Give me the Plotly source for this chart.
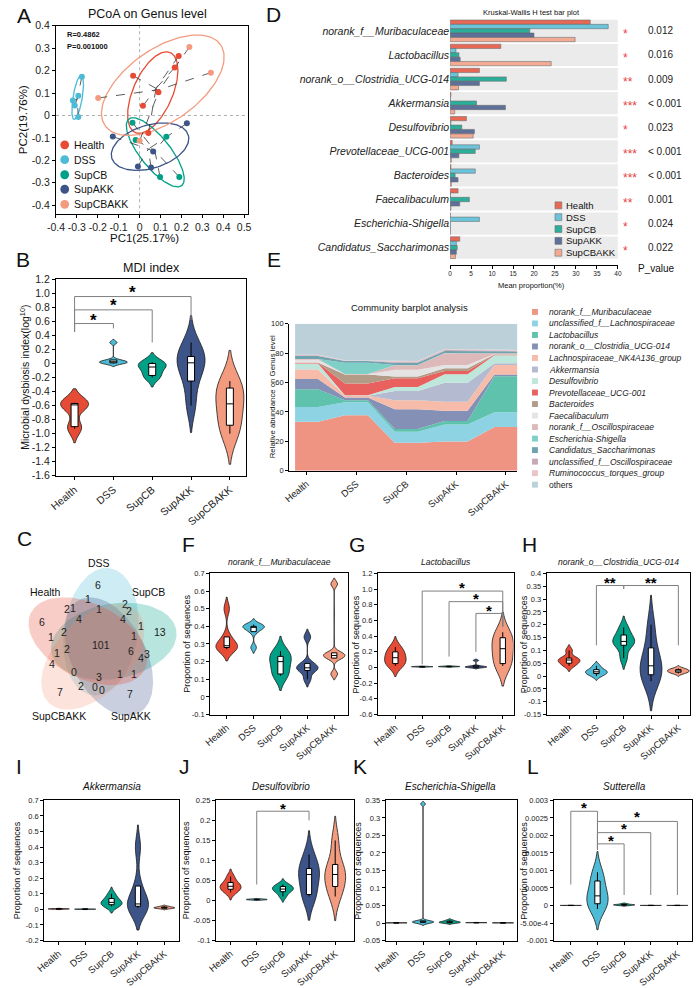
import numpy as np
import plotly.graph_objects as go

W, H = 698, 988
FONT = "Arial, 'Liberation Sans', sans-serif"

groups = ["Health", "DSS", "SupCB", "SupAKK", "SupCBAKK"]
group_colors = ["#E64B35", "#4DBBD5", "#00A087", "#3C5488", "#F39B7F"]

# ---------------- A: PCoA ----------------
pc1 = [
    [0.187, 0.168, -0.031, 0.090, 0.016, 0.042],
    [-0.276, -0.293, -0.319, -0.310, -0.293],
    [-0.034, -0.019, 0.128, 0.098, 0.190],
    [-0.128, 0.226, -0.008, 0.055, 0.065],
    [0.238, 0.341, -0.198, 0.000],
]
pc2 = [
    [0.265, 0.214, 0.177, 0.104, 0.043, -0.078],
    [0.173, 0.088, 0.067, 0.045, -0.007],
    [-0.032, -0.109, -0.095, -0.274, -0.274],
    [-0.094, -0.035, -0.227, -0.232, -0.160],
    [0.305, 0.191, 0.078, -0.113],
]
ell_cx = [0.063, -0.296, 0.075, 0.050, 0.111]
ell_cy = [0.102, 0.081, -0.164, -0.139, 0.135]
ell_a = [0.197, 0.100, 0.195, 0.190, 0.330]
ell_b = [0.093, 0.022, 0.070, 0.097, 0.165]
ell_ang = [64, 80, -49, 15, 32]
pcoa_stats = ["R=0.4862", "P=0.001000"]

# ---------------- B: MDI ----------------
mdi = [
    [-0.93, -0.90, -0.60, -0.58, -0.57, -0.56],
    [0.00, 0.01, 0.02, 0.03, 0.05, 0.30],
    [-0.20, -0.17, -0.07, -0.03, 0.00, 0.02],
    [-0.60, -0.25, -0.05, 0.07, 0.10, 0.30],
    [-1.00, -0.88, -0.65, -0.50, -0.35, -0.25],
]

# ---------------- C: Venn ----------------
venn_sets = ["DSS", "SupCB", "SupAKK", "SupCBAKK", "Health"]
venn_counts = ["6", "1", "2", "1", "1", "2", "2", "6", "4", "4", "1", "13", "1", "2", "1",
               "101", "2", "1", "4", "6", "4", "3", "0", "3", "1", "1", "7", "2", "0", "0", "7"]

# ---------------- D: Kruskal-Wallis ----------------
kw_taxa = ["norank_f__Muribaculaceae", "Lactobacillus", "norank_o__Clostridia_UCG-014",
           "Akkermansia", "Desulfovibrio", "Prevotellaceae_UCG-001", "Bacteroides",
           "Faecalibaculum", "Escherichia-Shigella", "Candidatus_Saccharimonas"]
kw_health = [33.4, 12.1, 7.0, 0.2, 3.9, 0.5, 0.2, 1.9, 0.05, 2.3]
kw_dss = [37.7, 1.4, 1.9, 0.1, 0.2, 7.0, 6.0, 0.1, 7.0, 1.5]
kw_supcb = [19.0, 2.1, 13.4, 6.3, 2.8, 6.0, 1.2, 4.6, 0.05, 1.7]
kw_supakk = [20.0, 2.4, 7.0, 13.2, 5.8, 2.1, 1.9, 2.3, 0.05, 1.5]
kw_supcbakk = [29.8, 24.1, 2.0, 1.1, 5.5, 0.3, 0.3, 0.2, 0.05, 1.3]
kw_stars = ["*", "*", "**", "***", "*", "***", "***", "**", "*", "*"]
kw_pvals = ["0.012", "0.016", "0.009", "< 0.001", "0.023", "< 0.001", "< 0.001", "0.001", "0.024", "0.022"]

# ---------------- E: community ----------------
comm_taxa = ["norank_f__Muribaculaceae", "unclassified_f__Lachnospiraceae", "Lactobacillus",
             "norank_o__Clostridia_UCG-014", "Lachnospiraceae_NK4A136_group", "Akkermansia",
             "Desulfovibrio", "Prevotellaceae_UCG-001", "Bacteroides", "Faecalibaculum",
             "norank_f__Oscillospiraceae", "Escherichia-Shigella", "Candidatus_Saccharimonas",
             "unclassified_f__Oscillospiraceae", "Ruminococcus_torques_group", "others"]
comm_values = [
    [33.4, 37.8, 19.0, 20.0, 29.8],
    [10.0, 8.8, 7.5, 11.5, 10.0],
    [12.0, 1.4, 2.0, 2.4, 24.5],
    [7.0, 1.8, 13.4, 7.0, 1.2],
    [6.5, 1.2, 6.0, 6.0, 6.5],
    [0.2, 0.1, 6.3, 13.0, 1.1],
    [3.9, 0.2, 2.8, 5.8, 5.5],
    [0.5, 8.0, 6.0, 2.1, 0.3],
    [0.2, 6.2, 1.2, 1.9, 0.3],
    [1.8, 0.1, 4.6, 2.3, 0.2],
    [0.5, 0.3, 3.0, 8.0, 0.5],
    [0.1, 7.5, 0.1, 0.1, 0.1],
    [2.0, 1.2, 1.5, 1.3, 1.2],
    [0.5, 0.3, 0.8, 0.8, 0.5],
    [0.3, 0.3, 0.5, 0.5, 0.5],
]
comm_colors = ["#EF9383", "#8DD3E4", "#5EC2AC", "#8490B6", "#F6BCA9", "#B4BBD0", "#BFE6DB",
               "#E9615F", "#B39C87", "#E4E4E4", "#DEB9B9", "#7ED0C7", "#6FA4AF", "#C6A9B7",
               "#E9C5CA", "#BBD0D9"]

# ---------------- F-L: violins ----------------
murib = [
    [0.27, 0.28, 0.28, 0.30, 0.34, 0.50],
    [0.28, 0.37, 0.39, 0.40, 0.40, 0.41],
    [0.12, 0.13, 0.18, 0.22, 0.23, 0.26],
    [0.10, 0.15, 0.16, 0.17, 0.19, 0.34],
    [0.13, 0.22, 0.23, 0.24, 0.25, 0.64],
]
lacto = [
    [0.02, 0.05, 0.10, 0.15, 0.20, 0.26],
    [0.005, 0.008, 0.010, 0.011, 0.012, 0.015],
    [0.008, 0.010, 0.012, 0.013, 0.015, 0.018],
    [0.000, 0.004, 0.008, 0.010, 0.020, 0.090],
    [0.02, 0.05, 0.20, 0.28, 0.38, 0.45],
]
clostr = [
    [0.040, 0.050, 0.060, 0.065, 0.070, 0.100],
    [0.000, 0.010, 0.013, 0.020, 0.025, 0.040],
    [0.070, 0.120, 0.130, 0.140, 0.160, 0.190],
    [-0.020, 0.005, 0.030, 0.050, 0.110, 0.200],
    [0.010, 0.015, 0.018, 0.022, 0.025, 0.030],
]
akk = [
    [0.001, 0.002, 0.003, 0.003, 0.004, 0.005],
    [0.000, 0.001, 0.001, 0.002, 0.002, 0.003],
    [0.020, 0.030, 0.040, 0.050, 0.070, 0.100],
    [0.010, 0.020, 0.020, 0.050, 0.150, 0.400],
    [0.005, 0.008, 0.010, 0.012, 0.015, 0.020],
]
desulfo = [
    [0.020, 0.028, 0.033, 0.038, 0.045, 0.060],
    [0.001, 0.002, 0.002, 0.003, 0.003, 0.004],
    [0.010, 0.022, 0.027, 0.030, 0.035, 0.040],
    [0.010, 0.015, 0.060, 0.070, 0.080, 0.115],
    [0.010, 0.035, 0.060, 0.070, 0.090, 0.150],
]
esch = [
    [0.0003, 0.0004, 0.0005, 0.0005, 0.0006, 0.0008],
    [0.000, 0.002, 0.003, 0.004, 0.006, 0.340],
    [0.000, 0.001, 0.002, 0.003, 0.005, 0.008],
    [0.0008, 0.0009, 0.0010, 0.0011, 0.0012, 0.0014],
    [0.0003, 0.0004, 0.0005, 0.0005, 0.0006, 0.0007],
]
sutt = [
    [0.0, 0.000001, 0.000002, 0.000002, 0.000003, 0.000004],
    [-0.0001, 0.00005, 0.0002, 0.00035, 0.0007, 0.00095],
    [0.0, 0.00001, 0.00002, 0.00002, 0.00003, 0.00005],
    [0.0, 0.000001, 0.000002, 0.000002, 0.000003, 0.000004],
    [0.0, 0.000001, 0.000002, 0.000002, 0.000003, 0.000004],
]

# =============== helpers ===============
def dom_x(l, r):
    return [l / W, r / W]


def dom_y(t, b):
    return [1 - b / H, 1 - t / H]


def rgba(hexc, a):
    h = hexc.lstrip("#")
    return f"rgba({int(h[0:2], 16)},{int(h[2:4], 16)},{int(h[4:6], 16)},{a})"


def fmt_g(v):
    r = round(v, 6)
    return "0" if abs(r) < 1e-12 else f"{r:g}"


def fmt_1(v):
    r = round(v, 6)
    return "0" if abs(r) < 1e-12 else f"{r:.1f}"


fig = go.Figure()
annotations = []
shapes = []
layout = {}


def text(t, x, y, size, color="#111", xanchor="center", yanchor="middle", **kw):
    annotations.append(dict(text=t, x=x / W, y=1 - y / H, xref="paper", yref="paper",
                            showarrow=False, xanchor=xanchor, yanchor=yanchor,
                            font=dict(family=FONT, size=size, color=color), **kw))


def vtext(t, x, y, size, color="#111"):
    text(t, x, y, size, color=color, textangle=-90)


def axis(domain, rng, tickvals=None, ticktext=None, size=7.5, angle=None, mirror=True,
         anchor=None, showline=True, ticks="outside", visible=True):
    d = dict(domain=domain, range=rng, type="linear", showline=showline, linecolor="black",
             linewidth=1, mirror=mirror, ticks=ticks, ticklen=3, tickwidth=1, tickcolor="black",
             showgrid=False, zeroline=False, fixedrange=True, visible=visible,
             tickfont=dict(family=FONT, size=size, color="#222"))
    if tickvals is not None:
        d.update(tickmode="array", tickvals=tickvals, ticktext=ticktext)
    if angle is not None:
        d["tickangle"] = angle
    if anchor:
        d["anchor"] = anchor
    return d


def ell_pts(cx, cy, a, b, ang_deg, n=160):
    t = np.linspace(0, 2 * np.pi, n)
    th = np.deg2rad(ang_deg)
    x = cx + a * np.cos(t) * np.cos(th) - b * np.sin(t) * np.sin(th)
    y = cy + a * np.cos(t) * np.sin(th) + b * np.sin(t) * np.cos(th)
    return x, y


def steps(lo, hi, st):
    n = int(round((hi - lo) / st))
    return [round(lo + i * st, 6) for i in range(n + 1)]


# =============== A ===============
xa = steps(-0.4, 0.5, 0.1)
ya = steps(-0.4, 0.4, 0.1)
layout["xaxis"] = axis(dom_x(44, 241), [-0.4, 0.519], xa, [fmt_1(v) for v in xa], size=10.5, anchor="y")
layout["yaxis"] = axis(dom_y(20, 211), [-0.44, 0.4], ya, [fmt_1(v) for v in ya], size=10.5, anchor="x")
text("PC1(25.17%)", 135, 235, 11.5)
vtext("PC2(19.76%)", 11, 115, 11.5)
shapes.append(dict(type="line", xref="x", yref="y", x0=0, x1=0, y0=-0.44, y1=0.4,
                   line=dict(color="#9a9a9a", width=0.8, dash="dot"), layer="below"))
shapes.append(dict(type="line", xref="x", yref="y", x0=-0.4, x1=0.519, y0=0, y1=0,
                   line=dict(color="#9a9a9a", width=0.8, dash="dot"), layer="below"))
for g in range(5):
    ex, ey = ell_pts(ell_cx[g], ell_cy[g], ell_a[g], ell_b[g], ell_ang[g])
    fig.add_trace(go.Scatter(x=ex, y=ey, mode="lines", line=dict(color=group_colors[g], width=1.3),
                             xaxis="x", yaxis="y", hoverinfo="skip"))
for g in range(5):
    cx, cy = np.mean(pc1[g]), np.mean(pc2[g])
    lx, ly = [], []
    for px_, py_ in zip(pc1[g], pc2[g]):
        lx += [px_, cx, None]
        ly += [py_, cy, None]
    fig.add_trace(go.Scatter(x=lx, y=ly, mode="lines", line=dict(color="#333", width=0.8, dash="dash"),
                             xaxis="x", yaxis="y", hoverinfo="skip"))
for g in range(5):
    fig.add_trace(go.Scatter(x=pc1[g], y=pc2[g], mode="markers",
                             marker=dict(color=group_colors[g], size=6), xaxis="x", yaxis="y"))
text("PCoA on Genus level", 138, 8, 12.5)
text("<b>" + pcoa_stats[0] + "</b>", 53, 29, 7.5, xanchor="left")
text("<b>" + pcoa_stats[1] + "</b>", 53, 41, 7.5, xanchor="left")
for g, yy in enumerate([140.7, 155.7, 171, 185.7, 201]):
    shapes.append(dict(type="circle", xref="paper", yref="paper", x0=(53 - 4.5) / W, x1=(53 + 4.5) / W,
                       y0=1 - (yy + 4.5) / H, y1=1 - (yy - 4.5) / H, fillcolor=group_colors[g],
                       line=dict(width=0)))
    text(groups[g], 60, yy, 10.5, xanchor="left")

# =============== violin helper ===============
def violin_panel(n, data, width=0.8, box_w=0.25, bws=None):
    for g in range(5):
        kw = {}
        if bws is not None and bws[g] is not None:
            kw["bandwidth"] = bws[g]
        fig.add_trace(go.Violin(
            x0=g, y=data[g], xaxis=f"x{n}", yaxis=f"y{n}", width=width,
            fillcolor=group_colors[g], line=dict(color="#1a1a1a", width=0.8),
            points=False, spanmode="soft", scalemode="width",
            box=dict(visible=True, width=box_w, fillcolor="white", line=dict(color="black", width=1)),
            meanline=dict(visible=False), hoverinfo="skip", opacity=1, **kw))


def brackets(n, items, star_size=15):
    for (i, j, yh, yi, yj, ys, lab) in items:
        shapes.append(dict(type="path", xref=f"x{n}", yref=f"y{n}",
                           path=f"M {i},{yi} L {i},{yh} L {j},{yh} L {j},{yj}",
                           line=dict(color="#808080", width=1)))
        annotations.append(dict(text="<b>" + lab + "</b>", x=(i + j) / 2, y=ys, xref=f"x{n}", yref=f"y{n}",
                                showarrow=False, xanchor="center", yanchor="middle", yshift=-3,
                                font=dict(family=FONT, size=star_size, color="black")))


# =============== B ===============
yb = steps(-1.6, 1.2, 0.2)
layout["xaxis2"] = axis(dom_x(44, 239), [-0.48, 4.42], list(range(5)), groups, size=10.5, angle=-40, anchor="y2")
layout["yaxis2"] = axis(dom_y(277, 476), [-1.6, 1.2], yb, [fmt_1(v) for v in yb], size=10.5, anchor="x2")
vtext("Microbial dysbiosis index(log<sup>10</sup>)", 11, 376, 10.5)
violin_panel(2, mdi, width=0.72, bws=[0.1, None, None, None, None])
brackets(2, [(0, 1, 0.57, 0.45, 0.50, 0.66, "*"), (0, 2, 0.765, 0.45, 0.30, 0.87, "*"),
             (0, 3, 0.955, 0.45, 0.62, 1.06, "*")], star_size=17)
text("MDI index", 142, 265, 12.5)

# =============== C: Venn ===============
layout["xaxis3"] = axis(dom_x(0, 170), [0, 170], visible=False, anchor="y3")
layout["yaxis3"] = axis(dom_y(555, 725), [725, 555], visible=False, anchor="x3")
venn_cols = [group_colors[1], group_colors[2], group_colors[3], group_colors[4], group_colors[0]]
venn_dirs = [90, 18, -54, -126, 162]
for k in range(5):
    th = np.deg2rad(venn_dirs[k])
    cx, cy = 90 + 14 * np.cos(th), 648 - 14 * np.sin(th)
    vx, vy = ell_pts(cx, cy, 65, 38, -venn_dirs[k] + 8)
    fig.add_trace(go.Scatter(x=vx, y=vy, mode="lines", fill="toself", line=dict(width=0),
                             fillcolor=rgba(venn_cols[k], 0.28), xaxis="x3", yaxis="y3", hoverinfo="skip"))
venn_xy = [(87, 587), (77, 601), (55, 611), (62, 610), (88, 611), (115, 606), (119, 613), (30, 624),
           (68, 621), (113, 621), (131, 628), (151, 634), (39, 639), (52, 634), (124, 638),
           (90, 648), (55, 652), (45, 656), (40, 667), (121, 654), (131, 661), (137, 657),
           (63, 675), (88, 680), (110, 677), (124, 677), (48, 695), (70, 689), (84, 690), (91, 693),
           (120, 697)]
for lab, (vx, vy) in zip(venn_counts, venn_xy):
    annotations.append(dict(text=lab, x=vx, y=vy, xref="x3", yref="y3", showarrow=False,
                            font=dict(family=FONT, size=10.5, color="#222")))
text("DSS", 88, 564, 10.5)
text("Health", 33, 594, 10.5)
text("SupCB", 139, 594, 10.5)
text("SupCBAKK", 47, 719, 10.5)
text("SupAKK", 121, 719, 10.5)

# =============== D ===============
xd_ = steps(0, 40, 5)
layout["xaxis4"] = axis(dom_x(448, 620), [0, 40], xd_, [fmt_g(v) for v in xd_], size=6.5, mirror=False,
                        anchor="y4")
layout["yaxis4"] = axis(dom_y(13, 262), [9.7, -0.5], list(range(10)), ["<i>" + t + "</i>" for t in kw_taxa],
                        size=10.5, mirror=False, showline=False, ticks="", anchor="x4")
text("Mean proportion(%)", 531, 283, 7.5)
for i in range(10):
    shapes.append(dict(type="rect", xref="x4", yref="y4", x0=0, x1=40, y0=i - 0.46, y1=i + 0.46,
                       fillcolor="#EBEBEB", line=dict(width=0), layer="below"))
for g, vals in enumerate([kw_health, kw_dss, kw_supcb, kw_supakk, kw_supcbakk]):
    fig.add_trace(go.Bar(y=list(range(10)), x=vals, orientation="h", xaxis="x4", yaxis="y4",
                         marker=dict(color=rgba(group_colors[g], 0.82), line=dict(color="#707070", width=0.6))))
for i in range(10):
    annotations.append(dict(text=kw_stars[i], x=623 / W, y=i, xref="paper", yref="y4", showarrow=False,
                            xanchor="left", yanchor="middle", yshift=-3,
                            font=dict(family=FONT, size=12, color="#E8413C")))
    annotations.append(dict(text=kw_pvals[i], x=649 / W, y=i, xref="paper", yref="y4", showarrow=False,
                            xanchor="left", yanchor="middle", font=dict(family=FONT, size=10, color="#222")))
text("P_value", 660, 266, 10)
text("Kruskal-Wallis H test bar plot", 531, 7, 7.5)
for g, yy in enumerate([202, 214, 226, 238, 250]):
    shapes.append(dict(type="rect", xref="paper", yref="paper", x0=(559 - 3.5) / W, x1=(559 + 3.5) / W,
                       y0=1 - (yy + 3.5) / H, y1=1 - (yy - 3.5) / H, fillcolor=rgba(group_colors[g], 0.82),
                       line=dict(color="#707070", width=0.6)))
    text(groups[g], 565, yy, 9.5, xanchor="left")

# =============== E ===============
ye = steps(0, 100, 20)
layout["xaxis5"] = axis(dom_x(283, 517), [-0.35, 4.23], list(range(5)), groups, size=9.5, angle=-40,
                        mirror=False, anchor="y5")
layout["yaxis5"] = axis(dom_y(322, 471), [0, 100], ye, [fmt_g(v) for v in ye], size=7.5, mirror=False,
                        anchor="x5")
vtext("Relative abundance on Genus level", 266, 396, 7.8)
ex_pts = []
for g in range(5):
    ex_pts += [g - 0.23, g + 0.23]
others = [100 - sum(comm_values[k][g] for k in range(len(comm_values))) for g in range(5)]
all_layers = comm_values + [others]
for k, vals in enumerate(all_layers):
    ys = []
    for v in vals:
        ys += [v, v]
    fig.add_trace(go.Scatter(x=ex_pts, y=ys, mode="lines", stackgroup="comm", line=dict(width=0),
                             fillcolor=comm_colors[k], xaxis="x5", yaxis="y5", hoverinfo="skip"))
text("Community barplot analysis", 406, 306, 9.5)
for k, name in enumerate(comm_taxa):
    yy = 310 + k * 11.67
    shapes.append(dict(type="rect", xref="paper", yref="paper", x0=(535 - 3) / W, x1=(535 + 3) / W,
                       y0=1 - (yy + 3) / H, y1=1 - (yy - 3) / H, fillcolor=comm_colors[k], line=dict(width=0)))
    label = name if name == "others" else "<i>" + name + "</i>"
    text(label, 547, yy, 8.5, xanchor="left", color="#222")

# =============== F-L ===============
panels = [
    (6, murib, (202, 343), (575, 718), [-0.62, 4.5], [-0.1, 0.7], steps(-0.1, 0.7, 0.1), fmt_g,
     "norank_f__Muribaculaceae", 273, 563, 8.5, 178),
    (7, lacto, (374, 513), (575, 718), [-0.65, 4.4], [-0.6, 1.2], steps(-0.6, 1.2, 0.2), fmt_1,
     "Lactobacillus", 444, 563, 8.5, 352),
    (8, clostr, (547, 694), (575, 718), [-0.82, 4.43], [-0.15, 0.4], steps(-0.15, 0.4, 0.05), fmt_g,
     "norank_o__Clostridia_UCG-014", 621, 563, 8.5, 524),
    (9, akk, (32, 170), (805, 947), [-0.55, 4.55], [-0.2, 0.7], steps(-0.2, 0.7, 0.1), fmt_g,
     "Akkermansia", 101, 791, 10, 5),
    (10, desulfo, (208, 349), (805, 947), [-0.56, 4.7], [-0.1, 0.25], steps(-0.1, 0.25, 0.05), fmt_g,
     "Desulfovibrio", 275, 791, 10, 178),
    (11, esch, (382, 517), (805, 947), [-0.4, 4.54], [-0.05, 0.35], steps(-0.05, 0.35, 0.05), fmt_g,
     "Escherichia-Shigella", 448, 791, 10, 354),
    (12, sutt, (554, 696), (805, 947), [-0.65, 4.55], [-0.001, 0.003], steps(-0.001, 0.003, 0.0005), None,
     "Sutterella", 627, 791, 10, 524),
]
sutt_ticks = ["-0.001", "-5.00e-4", "0", "0.0005", "0.001", "0.0015", "0.002", "0.0025", "0.003"]
for (n, data, xd, yd, xr, yr, yt, fm, title, tx, ty, tsz, ytx) in panels:
    layout[f"xaxis{n}"] = axis(dom_x(*xd), xr, list(range(5)), groups, size=9.5, angle=-40, anchor=f"y{n}")
    ttext = sutt_ticks if fm is None else [fm(v) for v in yt]
    layout[f"yaxis{n}"] = axis(dom_y(*yd), yr, yt, ttext, size=7.5, anchor=f"x{n}")
    violin_panel(n, data, width=0.8)
    text("<i>" + title + "</i>", tx, ty, tsz)
    vtext("Proportion of sequences", ytx, (yd[0] + yd[1]) / 2, 9)

brackets(7, [(1, 4, 0.975, 0.04, 0.52, 1.06, "*"), (2, 4, 0.84, 0.14, 0.52, 0.92, "*"),
             (3, 4, 0.69, 0.20, 0.52, 0.77, "*")])
brackets(8, [(1, 2, 0.353, 0.12, 0.34, 0.375, "**"), (2, 4, 0.353, 0.34, 0.12, 0.375, "**")])
brackets(10, [(1, 3, 0.223, 0.04, 0.20, 0.238, "*")])
brackets(12, [(0, 1, 0.00269, 0.0006, 0.0016, 0.00287, "*"), (1, 4, 0.0024, 0.0016, 0.0003, 0.00262, "*"),
              (1, 3, 0.00208, 0.0016, 0.0003, 0.00228, "*"), (1, 2, 0.00176, 0.0016, 0.0003, 0.00195, "*")])

# panel letters
for lab, x, y in [("A", 2, 10), ("B", 1, 257), ("C", 2, 540), ("D", 257, 9), ("E", 258, 257),
                  ("F", 171, 546), ("G", 342, 546), ("H", 520, 546), ("I", 1, 771), ("J", 168, 771),
                  ("K", 346, 771), ("L", 525, 771)]:
    text(lab, x, y, 21, xanchor="left", color="#111")

layout.update(dict(width=W, height=H, margin=dict(l=0, r=0, t=0, b=0), paper_bgcolor="white",
                   plot_bgcolor="white", showlegend=False, barmode="group", bargap=0.1, bargroupgap=0,
                   violinmode="overlay", violingap=0, font=dict(family=FONT, color="#111"),
                   annotations=annotations, shapes=shapes))
fig.update_layout(**layout)
fig.write_html("out.html")
